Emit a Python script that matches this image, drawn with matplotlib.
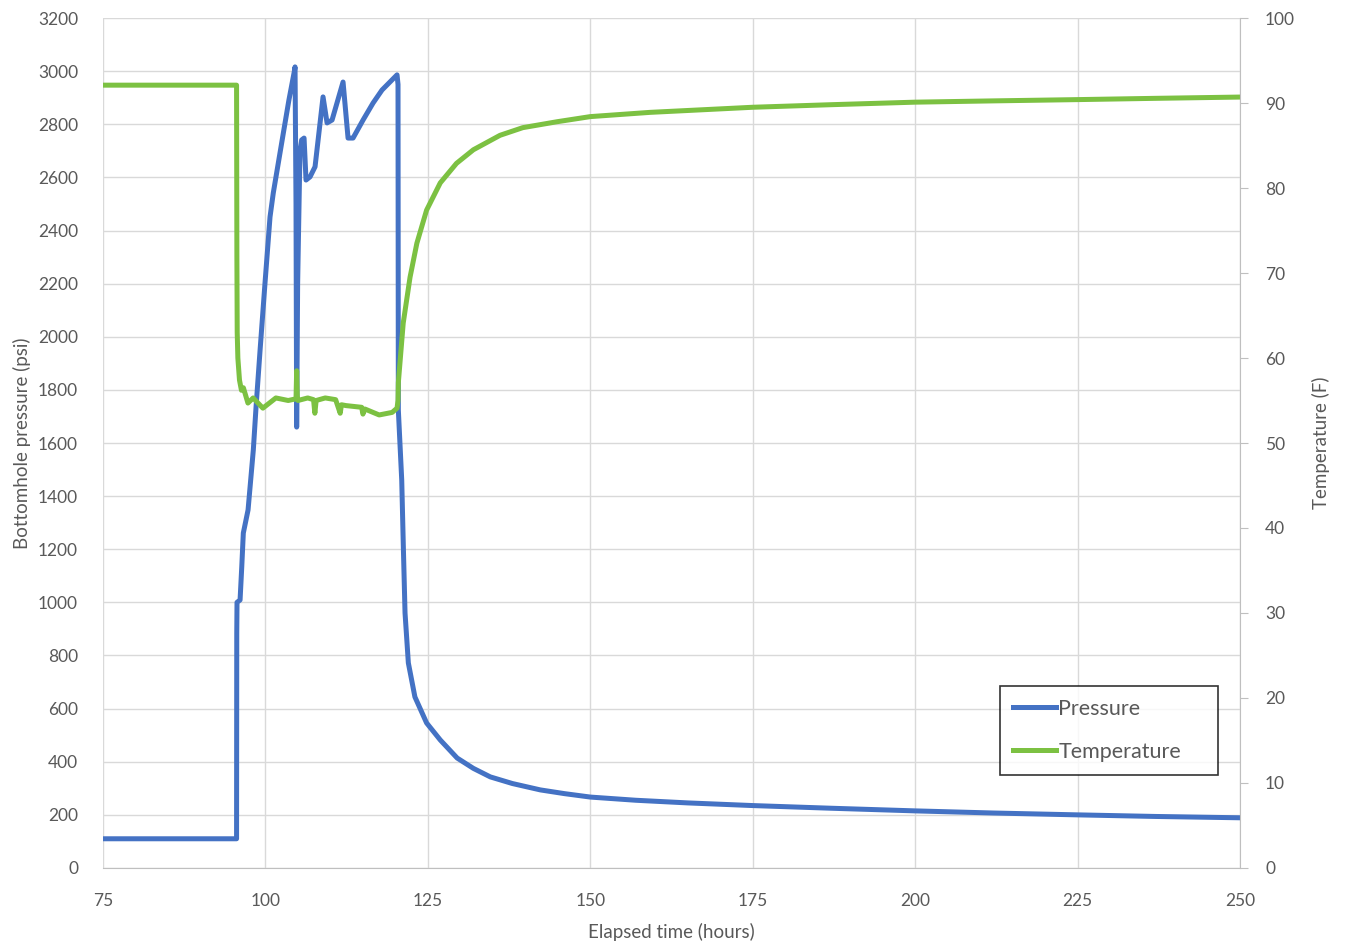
import matplotlib
matplotlib.use('Agg')
import matplotlib.pyplot as plt

# Данные давления (часы, psi)
time_p = [75, 95.55, 95.58, 95.62, 96.09, 96.35, 96.59, 97.32, 98.13, 98.55,
          99.17, 99.93, 100.7, 101.2, 102.75, 103.6, 104.45, 104.55, 104.7,
          104.8, 104.95, 105.31, 105.57, 105.94, 106.24, 106.86, 107.63, 108.86,
          109.48, 110.25, 111.94, 112.71, 113.48, 115.02, 116.56, 117.94, 120.25,
          120.4, 120.45, 120.97, 121.22, 121.48, 121.99, 123.0, 124.8, 126.9,
          129.5, 132, 134.6, 138, 142.3, 146, 150, 157, 165, 175, 187, 200,
          212, 225, 237, 250]
pressure = [110, 110, 884, 1000, 1009, 1134, 1261, 1348, 1574, 1736,
            1950, 2203, 2451, 2541, 2767, 2890, 3000, 3016, 2500,
            1660, 2200, 2700, 2741, 2748, 2590, 2602, 2640, 2903,
            2805, 2816, 2959, 2748, 2748, 2816, 2880, 2929, 2986,
            2950, 1724, 1461, 1209, 960, 772, 644, 546, 482,
            414, 375, 343, 318, 294, 280, 267, 255, 245, 235, 225, 215,
            207, 200, 194, 189]

# Данные температуры (часы, F)
time_t = [75, 95.55, 95.6, 95.65, 95.75, 96.0, 96.3, 96.6, 97.3, 98.1, 99.6,
          101.6, 103.5, 104.7, 104.8, 104.9, 105.0, 106.5, 107.4, 107.6, 107.8,
          109.2, 110.8, 111.5, 111.7, 112.4, 114.8, 115.0, 115.3, 117.5, 119.5,
          120.25, 120.4, 120.45, 121.2, 122.25, 123.3, 124.8, 126.9, 129.4,
          132.0, 136.1, 139.6, 144.9, 150, 159.2, 175, 187, 200, 212, 225, 237,
          250]
temperature = [92.1, 92.1, 72, 63, 60, 57.4, 56.2, 56.5, 54.7, 55.3, 54.1,
               55.3, 55.0, 55.2, 58.5, 55.5, 55.0, 55.3, 55.1, 53.5, 55.0,
               55.3, 55.1, 53.5, 54.5, 54.4, 54.2, 53.4, 54.0, 53.3, 53.6,
               54.1, 55.0, 57.1, 64.1, 69.5, 73.5, 77.4, 80.6, 82.9,
               84.5, 86.2, 87.1, 87.8, 88.4, 88.9, 89.5, 89.8, 90.1, 90.25,
               90.4, 90.55, 90.7]

x_ticks = [75, 100, 125, 150, 175, 200, 225, 250]

blue = '#4472C4'
green = '#7CC142'
grey = '#595959'

plt.rcParams['font.family'] = ['Lato', 'DejaVu Sans']

fig = plt.figure(figsize=(13.47, 9.48), dpi=100)
ax = fig.add_axes([0.0765, 0.0844, 0.8441, 0.8966])
ax2 = ax.twinx()

l1, = ax.plot(time_p, pressure, color=blue, lw=3.6, solid_joinstyle='round')
l2, = ax2.plot(time_t, temperature, color=green, lw=3.6, solid_joinstyle='round')

ax.set_xlim(75, 250)
ax.set_ylim(0, 3200)
ax2.set_ylim(0, 100)
ax.set_xticks(x_ticks)
ax.set_yticks(range(0, 3201, 200))
ax2.set_yticks(range(0, 101, 10))

ax.grid(True, color='#d9d9d9', lw=1)
ax.set_axisbelow(True)

for a in (ax, ax2):
    for s in a.spines.values():
        s.set_visible(False)
ax2.spines['right'].set_visible(True)
ax2.spines['right'].set_color('#bfbfbf')
ax.spines['bottom'].set_visible(True)
ax.spines['bottom'].set_color('#bfbfbf')

ax.tick_params(axis='both', length=0, labelsize=12.5, labelcolor=grey)
ax.tick_params(axis='y', pad=18)
ax.tick_params(axis='x', pad=18)
ax2.tick_params(axis='y', length=6, color='#bfbfbf', labelsize=12.5,
                labelcolor=grey, pad=12)

ax.set_xlabel('Elapsed time (hours)', fontsize=13.5, color=grey, labelpad=10)
ax.set_ylabel('Bottomhole pressure (psi)', fontsize=13.5, color=grey, labelpad=5)
ax2.set_ylabel('Temperature (F)', fontsize=13.5, color=grey, labelpad=12)

# Легенда растянута на заданную ширину рамки
leg = ax2.legend([l1, l2], ['Pressure', 'Temperature'], loc='upper left',
                 bbox_to_anchor=(0.789, 0.108, 0.192, 0.106), mode='expand',
                 fontsize=15.5, frameon=True, fancybox=False, edgecolor='black',
                 handlelength=2.0, handletextpad=0.1, labelspacing=1.05,
                 borderpad=0.6, borderaxespad=0)
leg.get_frame().set_linewidth(1.2)
for t in leg.get_texts():
    t.set_color(grey)

fig.savefig('out.png', dpi=100)
